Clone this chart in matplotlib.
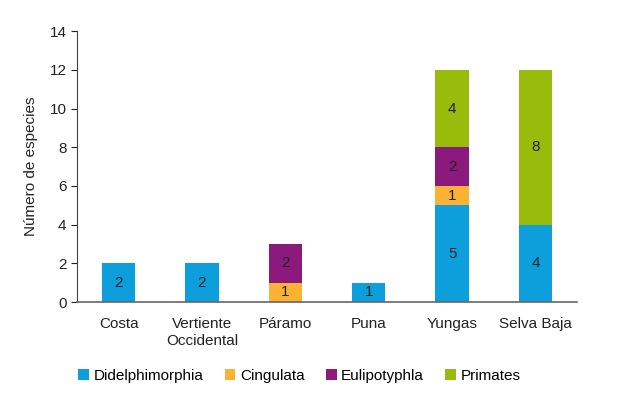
import matplotlib
matplotlib.use("Agg")
import matplotlib.pyplot as plt
import numpy as np

plt.rcParams['font.family'] = ['Liberation Sans', 'DejaVu Sans']

regiones = ["Costa", "Vertiente\nOccidental", "Páramo", "Puna", "Yungas", "Selva Baja"]
ordenes = ["Didelphimorphia", "Cingulata", "Eulipotyphla", "Primates"]
didelphimorphia = [2, 2, 0, 1, 5, 4]
cingulata = [0, 0, 1, 0, 1, 0]
eulipotyphla = [0, 0, 2, 0, 2, 0]
primates = [0, 0, 0, 0, 4, 8]
colores = ["#0C9FDB", "#F9B233", "#8B1A7C", "#99BC0C"]

fig = plt.figure(figsize=(6.2, 3.99), dpi=100)
ax = fig.add_axes([0.124, 0.243, 0.807, 0.679])

x = np.arange(len(regiones))
base = np.zeros(len(regiones))
for nombre, valores, color in zip(ordenes, [didelphimorphia, cingulata, eulipotyphla, primates], colores):
    valores = np.array(valores)
    bars = ax.bar(x, valores, 0.4, bottom=base, color=color, label=nombre)
    for b, v, y0 in zip(bars, valores, base):
        if v > 0:
            ax.text(b.get_x() + b.get_width() / 2, y0 + v / 2, str(v),
                    ha='center', va='center', fontsize=11, color='#222222')
    base = base + valores

ax.set_xlim(-0.5, len(regiones) - 0.5)
ax.set_ylim(0, 14)
ax.set_yticks(range(0, 15, 2))
ax.set_xticks(x)
ax.set_xticklabels(regiones, fontsize=11, color='#222222')
ax.tick_params(axis='x', length=0, pad=11)
ax.tick_params(axis='y', length=4, labelsize=11, colors='#222222', direction='out')
ax.set_ylabel("Número de especies", fontsize=11, color='#222222', labelpad=8)
for s in ['top', 'right']:
    ax.spines[s].set_visible(False)
ax.spines['left'].set_color('#444444')
ax.spines['bottom'].set_color('#666666')
ax.spines['bottom'].set_linewidth(1.2)

fig.legend(loc='upper left', bbox_to_anchor=(78 / 620, 1 - 369 / 399), ncol=4, frameon=False,
           fontsize=11, handlelength=0.7, handleheight=0.7, handletextpad=0.3,
           columnspacing=1.4, borderpad=0, borderaxespad=0)

fig.savefig("out.png", dpi=100)
